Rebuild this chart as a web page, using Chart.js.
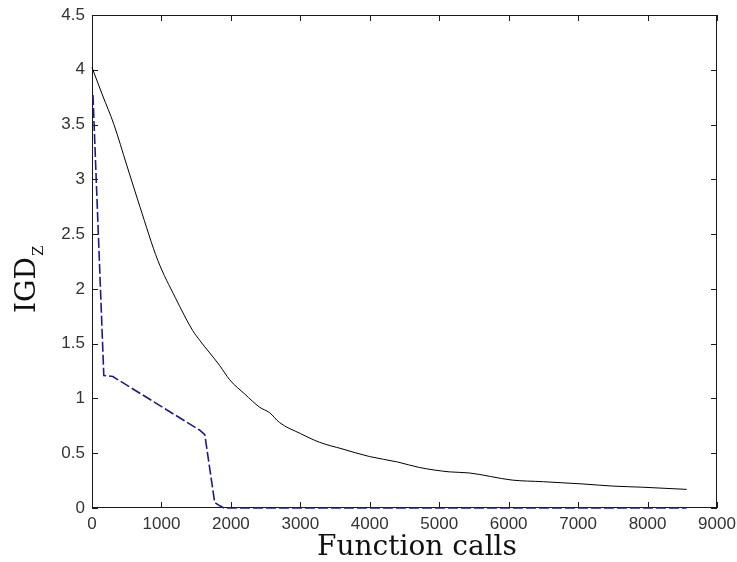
<!DOCTYPE html>
<html>
<head>
<meta charset="utf-8">
<script src="https://cdn.jsdelivr.net/npm/chart.js@4/dist/chart.umd.min.js"></script>
<style>
  body { margin: 0; background: #fff; }
  canvas { display: block; }
</style>
</head>
<body>
<canvas id="igdChart" width="737" height="562"></canvas>
<script>
// Convergence data: IGD_Z versus number of function calls
const callsA = [0, 150, 316, 500, 690, 948, 1200, 1450, 1552, 1839, 1983, 2200, 2414, 2557, 2700, 3000, 3276, 3600, 3994, 4400, 4713, 5144, 5431, 6049, 6500, 7055, 7500, 7917, 8563];
const igdA = [4.02, 3.77, 3.5, 3.13, 2.75, 2.26, 1.92, 1.62, 1.53, 1.30, 1.17, 1.04, 0.92, 0.87, 0.78, 0.68, 0.60, 0.54, 0.47, 0.42, 0.37, 0.33, 0.32, 0.255, 0.24, 0.22, 0.20, 0.19, 0.17];

const callsB = [14, 170, 300, 1552, 1624, 1767, 1840, 1900, 8563];
const igdB = [3.77, 1.21, 1.2, 0.71, 0.67, 0.05, 0.02, 0, 0];

const xTicks = [0, 1000, 2000, 3000, 4000, 5000, 6000, 7000, 8000, 9000];
const yTicks = [0, 0.5, 1, 1.5, 2, 2.5, 3, 3.5, 4, 4.5];

const toPoints = (xs, ys) => xs.map((v, i) => ({ x: v, y: ys[i] }));

// MATLAB-style box with inward ticks on all four sides, plus axis titles
const boxAxes = {
  id: 'boxAxes',
  beforeDatasetsDraw(chart) {
    const { ctx, chartArea: a, scales: { x, y } } = chart;
    ctx.save();
    ctx.strokeStyle = '#1a1a1a';
    ctx.lineWidth = 1;
    ctx.strokeRect(a.left + 0.5, a.top + 0.5, a.right - a.left - 1, a.bottom - a.top - 1);
    ctx.beginPath();
    xTicks.forEach(v => {
      const px = Math.round(x.getPixelForValue(v)) + 0.5;
      ctx.moveTo(px, a.bottom); ctx.lineTo(px, a.bottom - 6);
      ctx.moveTo(px, a.top); ctx.lineTo(px, a.top + 6);
    });
    yTicks.forEach(v => {
      const py = Math.round(y.getPixelForValue(v)) + 0.5;
      ctx.moveTo(a.left, py); ctx.lineTo(a.left + 6, py);
      ctx.moveTo(a.right, py); ctx.lineTo(a.right - 6, py);
    });
    ctx.stroke();

    ctx.fillStyle = '#111';
    ctx.font = '28px "DejaVu Serif"';
    ctx.textAlign = 'center';
    ctx.textBaseline = 'alphabetic';
    ctx.fillText('Function calls', 417, 555);

    ctx.translate(35, 313);
    ctx.rotate(-Math.PI / 2);
    ctx.textAlign = 'left';
    ctx.fillText('IGD', 0, 0);
    const w = ctx.measureText('IGD').width;
    ctx.font = '15px "DejaVu Serif"';
    ctx.fillText('Z', w + 1, 8);
    ctx.restore();
  }
};

new Chart(document.getElementById('igdChart'), {
  type: 'line',
  data: {
    datasets: [{
      data: toPoints(callsA, igdA),
      borderColor: '#000',
      borderWidth: 1,
      pointRadius: 0,
      cubicInterpolationMode: 'monotone',
      clip: 6
    }, {
      data: toPoints(callsB, igdB),
      borderColor: '#1c1c86',
      borderWidth: 1.6,
      borderDash: [10, 3],
      pointRadius: 0,
      tension: 0,
      clip: 6
    }]
  },
  options: {
    responsive: false,
    devicePixelRatio: 1,
    animation: false,
    layout: { padding: { left: 0, top: 15, right: 20, bottom: 0 } },
    plugins: {
      legend: { display: false },
      tooltip: { enabled: false }
    },
    scales: {
      x: {
        type: 'linear',
        min: 0,
        max: 9000,
        afterFit: s => { s.height = 54; s.paddingLeft = 0; s.paddingRight = 0; },
        afterBuildTicks: s => { s.ticks = xTicks.map(v => ({ value: v })); },
        ticks: {
          color: '#333',
          font: { family: '"Liberation Sans", Arial', size: 17 },
          padding: 6,
          maxRotation: 0,
          callback: v => String(v)
        },
        grid: { display: true, drawOnChartArea: false, drawTicks: false },
        border: { display: false }
      },
      y: {
        type: 'linear',
        min: 0,
        max: 4.5,
        afterFit: s => { s.width = 92; s.paddingTop = 0; s.paddingBottom = 0; },
        afterBuildTicks: s => { s.ticks = yTicks.map(v => ({ value: v })); },
        ticks: {
          color: '#333',
          font: { family: '"Liberation Sans", Arial', size: 17 },
          padding: 7,
          callback: v => String(v)
        },
        grid: { display: true, drawOnChartArea: false, drawTicks: false },
        border: { display: false }
      }
    }
  },
  plugins: [boxAxes]
});
</script>
</body>
</html>
